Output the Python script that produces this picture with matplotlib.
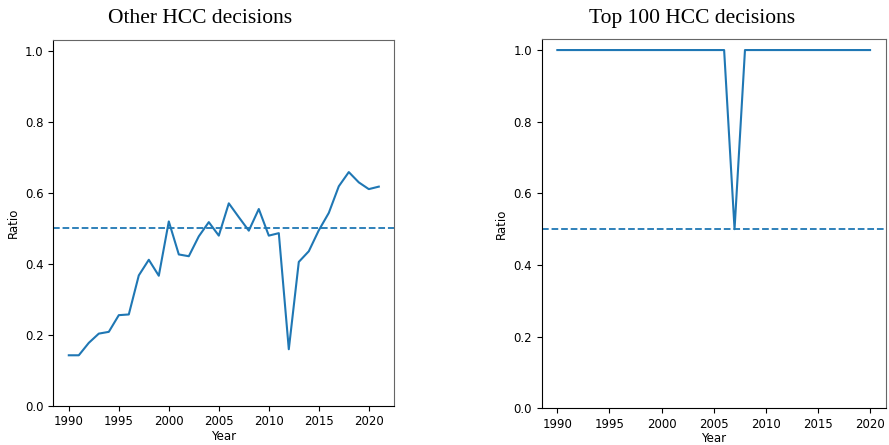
import matplotlib
matplotlib.use("Agg")
import matplotlib.pyplot as plt

years_other = list(range(1990, 2022))
ratio_other = [0.142, 0.142, 0.177, 0.203, 0.208, 0.255, 0.257, 0.367, 0.411, 0.366,
               0.519, 0.426, 0.421, 0.477, 0.517, 0.479, 0.570, 0.531, 0.493, 0.554,
               0.479, 0.486, 0.159, 0.405, 0.435, 0.494, 0.543, 0.618, 0.658, 0.629,
               0.610, 0.617]

years_top = list(range(1990, 2021))
ratio_top = [1.0] * 17 + [0.5] + [1.0] * 13

threshold = 0.5
titles = ["Other HCC decisions", "Top 100 HCC decisions"]

W, H = 889, 445
fig = plt.figure(figsize=(W / 100, H / 100), dpi=100)

def frac(x0, y0, x1, y1):
    return [x0 / W, 1 - y1 / H, (x1 - x0) / W, (y1 - y0) / H]

ax1 = fig.add_axes(frac(53.3, 40, 394.3, 405.7))
ax2 = fig.add_axes(frac(541.7, 39.3, 885.7, 408.3))

color = "#1f77b4"
for ax, xs, ys in [(ax1, years_other, ratio_other), (ax2, years_top, ratio_top)]:
    ax.plot(xs, ys, color=color, lw=1.5)
    ax.axhline(threshold, color=color, ls="--", lw=1.3)
    ax.set_ylim(0, 1.03)
    ax.set_xticks([1990, 1995, 2000, 2005, 2010, 2015, 2020])
    ax.set_yticks([0.0, 0.2, 0.4, 0.6, 0.8, 1.0])
    ax.tick_params(labelsize=8.5)
    ax.set_xlabel("Year", fontsize=8.5, labelpad=1)
    ax.set_ylabel("Ratio", fontsize=8.5, labelpad=4)
    for s in ["top", "right"]:
        ax.spines[s].set_color("#666666")

fig.text(200.5 / W, 1 - 23 / H, titles[0], family="Liberation Serif", fontsize=15.5,
         ha="center", va="baseline")
fig.text(692.5 / W, 1 - 23 / H, titles[1], family="Liberation Serif", fontsize=15.5,
         ha="center", va="baseline")

fig.savefig("out.png", dpi=100)
